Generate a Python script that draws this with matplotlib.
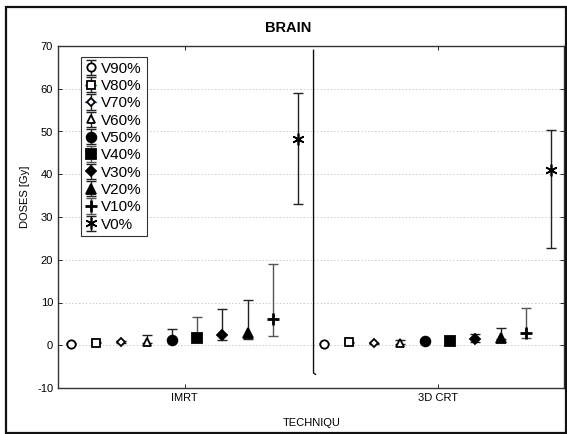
import matplotlib
matplotlib.use("Agg")
import matplotlib.pyplot as plt
from matplotlib.patches import Rectangle
from matplotlib.legend_handler import HandlerTuple
import numpy as np

plt.rcParams['font.family'] = ['Liberation Sans', 'DejaVu Sans']
plt.rcParams['axes.unicode_minus'] = False

categories = ['IMRT', '3D CRT']
series = ['V90%', 'V80%', 'V70%', 'V60%', 'V50%', 'V40%', 'V30%', 'V20%', 'V10%', 'V0%']

imrt_mean = [0.4, 0.6, 0.7, 0.8, 1.2, 1.6, 2.3, 2.8, 6.1, 48.3]
imrt_upper = [0.5, 0.7, 0.9, 2.3, 3.7, 6.5, 8.4, 10.7, 19.1, 59.0]
imrt_lower = [0.3, 0.5, 0.5, 0.6, 1.0, 1.4, 1.3, 1.5, 2.2, 33.0]

crt_mean = [0.4, 0.7, 0.5, 0.6, 1.0, 1.1, 1.5, 1.8, 2.9, 41.0]
crt_upper = [0.5, 0.8, 0.6, 1.2, 1.1, 1.2, 2.6, 4.1, 8.8, 50.3]
crt_lower = [0.3, 0.6, 0.4, 0.4, 0.9, 1.0, 0.8, 1.5, 1.6, 22.8]

divider_x = 0.51
divider_range = [69.0, -6.5]

markers = ['o', 's', 'D', '^', 'o', 's', 'D', '^', '+', (6, 2, 0)]
fills = [False, False, False, False, True, True, True, True, True, True]
sizes = [6.0, 5.5, 4.5, 6.0, 7.0, 6.5, 5.0, 7.0, 8, 8.5]
ecolors = ['#222222', '#222222', '#222222', '#222222', '#222222', '#555555',
           '#222222', '#222222', '#555555', '#222222']
legend_line_colors = [None, '#2ca02c', '#3366cc', None, None, None, None, None, None, None]

fig = plt.figure(figsize=(5.67, 4.34), dpi=100)
ax = fig.add_axes([58/567, 1-388/434, (564-58)/567, (388-46)/434])

x = np.arange(len(categories))
means = [imrt_mean, crt_mean]
uppers = [imrt_upper, crt_upper]
lowers = [imrt_lower, crt_lower]

handles = []
for i, name in enumerate(series):
    xs = x + (i - 4.5) * 0.1
    m = np.array([means[0][i], means[1][i]])
    up = np.array([uppers[0][i], uppers[1][i]]) - m
    lo = m - np.array([lowers[0][i], lowers[1][i]])
    mk = markers[i]
    h = ax.errorbar(xs, m, yerr=[lo, up], fmt='none', ecolor=ecolors[i],
                    elinewidth=1.0, capsize=3.5, capthick=1.0, zorder=2)
    face = 'black' if fills[i] else 'white'
    lw = 1.3
    if mk == '+':
        lw = 2.0
    if isinstance(mk, tuple):
        lw = 1.2
    sc = ax.plot(xs, m, linestyle='none', marker=mk, markersize=sizes[i],
                 markerfacecolor=face, markeredgecolor='black',
                 markeredgewidth=lw, zorder=3)[0]
    hs = [h, sc]
    if legend_line_colors[i]:
        ln, = ax.plot([], [], color=legend_line_colors[i], linewidth=1.0)
        hs.insert(0, ln)
    handles.append(tuple(hs))

ax.plot([divider_x, divider_x, divider_x + 0.008], divider_range + [divider_range[1] - 0.3],
        color='#111111', linewidth=1.0, zorder=4)

ax.set_xlim(-0.5, 1.5)
ax.set_ylim(-10, 70)
ax.set_yticks(np.arange(-10, 71, 10))
ax.set_xticks(x)
ax.set_xticklabels(categories, fontsize=8)
ax.tick_params(axis='y', labelsize=8, direction='in', length=3, right=True, width=0.6)
ax.tick_params(axis='x', direction='in', length=3, top=True, width=0.6)
ax.yaxis.grid(True, linestyle=(0, (1.5, 2)), color='#cccccc', linewidth=0.7)
ax.set_axisbelow(True)
for s in ax.spines.values():
    s.set_color('#333333')
    s.set_linewidth(1.0)

leg = ax.legend(handles, series, loc='upper left', bbox_to_anchor=(0.045, 0.968),
                borderaxespad=0, fontsize=11, frameon=True, fancybox=False,
                edgecolor='black', handlelength=0.7, handletextpad=0.35,
                labelspacing=0.22, borderpad=0.3,
                handler_map={tuple: HandlerTuple(ndivide=1)})
leg.get_frame().set_linewidth(0.8)

fig.text(288/567, 1-28/434, 'BRAIN', ha='center', va='center', fontsize=10.5, fontweight='bold')
fig.text(25/567, 1-197/434, 'DOSES [Gy]', ha='center', va='center', rotation=90, fontsize=8)
fig.text(312/567, 1-423/434, 'TECHNIQU', ha='center', va='center', fontsize=8)

fig.patches.append(Rectangle((6/567, 1-433/434), (566-6)/567, (433-7)/434,
                             transform=fig.transFigure, fill=False,
                             edgecolor='#111111', linewidth=1.6))

fig.savefig('out.png', dpi=100)
